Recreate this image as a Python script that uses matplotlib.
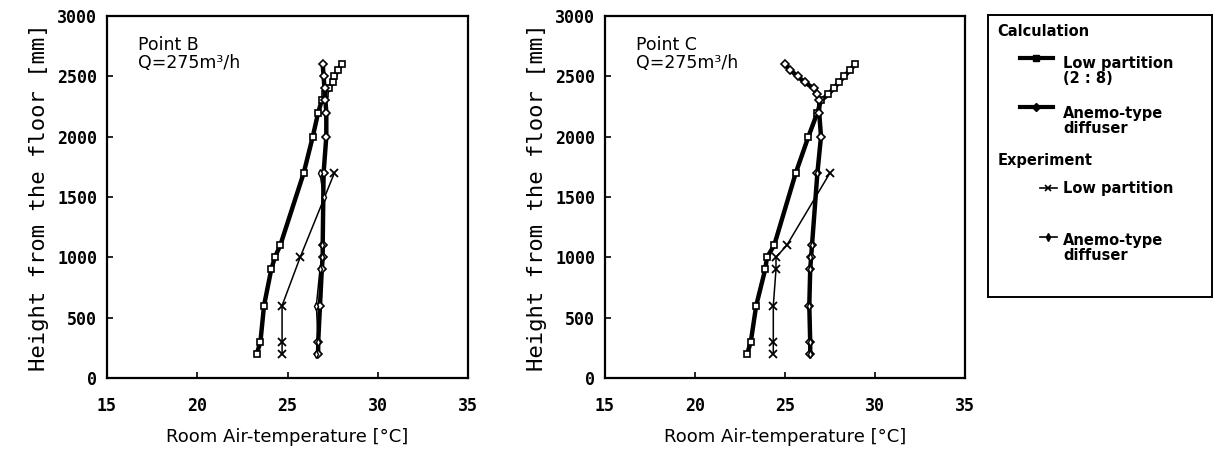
import matplotlib
matplotlib.use("Agg")
import matplotlib.pyplot as plt

# ---- data (temperature in C, height in mm) ----
# Point B
b_calc_low_h = [200, 300, 600, 900, 1000, 1100, 1700, 2000, 2200, 2300,
                2350, 2400, 2450, 2500, 2550, 2600]
b_calc_low_t = [23.3, 23.5, 23.7, 24.1, 24.3, 24.6, 25.9, 26.4, 26.7, 26.9,
                27.1, 27.3, 27.5, 27.6, 27.8, 28.0]
b_calc_ane_h = [200, 300, 600, 900, 1000, 1100, 1700, 2000, 2200, 2300,
                2400, 2500, 2600]
b_calc_ane_t = [26.7, 26.7, 26.8, 26.9, 26.95, 26.95, 27.0, 27.15, 27.15,
                27.1, 27.05, 27.0, 26.95]
b_exp_low_h = [200, 300, 600, 1000, 1700]
b_exp_low_t = [24.7, 24.7, 24.7, 25.7, 27.6]
b_exp_ane_h = [200, 300, 600, 900, 1000, 1100, 1500, 1700]
b_exp_ane_t = [26.6, 26.7, 26.6, 26.8, 26.9, 26.9, 27.0, 26.8]

# Point C
c_calc_low_h = [200, 300, 600, 900, 1000, 1100, 1700, 2000, 2200, 2300,
                2350, 2400, 2450, 2500, 2550, 2600]
c_calc_low_t = [22.9, 23.1, 23.4, 23.9, 24.0, 24.4, 25.6, 26.3, 26.8, 27.0,
                27.4, 27.7, 28.0, 28.3, 28.6, 28.9]
c_calc_ane_h = [200, 300, 600, 900, 1000, 1100, 1700, 2000, 2200, 2300,
                2350, 2400, 2450, 2500, 2550, 2600]
c_calc_ane_t = [26.4, 26.4, 26.35, 26.4, 26.45, 26.5, 26.8, 27.0, 26.9, 26.9,
                26.8, 26.6, 26.1, 25.7, 25.3, 25.0]
c_exp_low_h = [200, 300, 600, 900, 1000, 1100, 1700]
c_exp_low_t = [24.35, 24.35, 24.35, 24.5, 24.5, 25.1, 27.5]
c_exp_ane_h = [200, 300, 600, 900, 1000, 1100, 1700]
c_exp_ane_t = [26.4, 26.4, 26.35, 26.4, 26.4, 26.5, 26.8]

x_ticks = [15, 20, 25, 30, 35]
y_ticks = [0, 500, 1000, 1500, 2000, 2500, 3000]
y_tick_labels = ["0", "500", "1000", "1500", "2000", "2500", "3000"]
panel_titles = ["Point B\nQ=275m\u00b3/h", "Point C\nQ=275m\u00b3/h"]

W, H = 1214, 450
fig = plt.figure(figsize=(W / 100, H / 100), dpi=100)

mono = "DejaVu Sans Mono"


def draw_panel(rect, title, calc_low, calc_ane, exp_low, exp_ane):
    ax = fig.add_axes(rect)
    ax.plot(calc_low[1], calc_low[0], "-", color="k", lw=3.2,
            marker="s", ms=5, mfc="white", mec="k", mew=1.2)
    ax.plot(calc_ane[1], calc_ane[0], "-", color="k", lw=3.2,
            marker="D", ms=4.5, mfc="white", mec="k", mew=1.2)
    ax.plot(exp_low[1], exp_low[0], "-", color="k", lw=1.1,
            marker="x", ms=6, mew=1.3)
    ax.plot(exp_ane[1], exp_ane[0], "-", color="k", lw=1.1,
            marker="d", ms=4, mfc="white", mec="k", mew=1.0)
    ax.set_xlim(15, 35)
    ax.set_ylim(0, 3000)
    ax.set_xticks(x_ticks)
    ax.set_yticks(y_ticks)
    ax.set_yticklabels(y_tick_labels)
    ax.tick_params(direction="in", length=4, width=1.2)
    ax.tick_params(axis="x", pad=14, labelsize=12)
    ax.tick_params(axis="y", pad=7, labelsize=12)
    for lab in ax.get_xticklabels() + ax.get_yticklabels():
        lab.set_fontfamily(mono)
        lab.set_fontweight("bold")
    for sp in ax.spines.values():
        sp.set_linewidth(1.6)
    ax.set_xlabel("Room Air-temperature [\u00b0C]", fontsize=13, labelpad=9)
    ax.set_ylabel("Height from the floor [mm]", fontsize=16,
                  family=mono, labelpad=6)
    ax.text(0.085, 0.945, title, transform=ax.transAxes, fontsize=12.5,
            va="top", ha="left", linespacing=1.0)
    return ax


draw_panel([107 / W, 1 - 378 / H, 361 / W, 362 / H], panel_titles[0],
           (b_calc_low_h, b_calc_low_t), (b_calc_ane_h, b_calc_ane_t),
           (b_exp_low_h, b_exp_low_t), (b_exp_ane_h, b_exp_ane_t))
draw_panel([605 / W, 1 - 378 / H, 360 / W, 362 / H], panel_titles[1],
           (c_calc_low_h, c_calc_low_t), (c_calc_ane_h, c_calc_ane_t),
           (c_exp_low_h, c_exp_low_t), (c_exp_ane_h, c_exp_ane_t))

# ---- legend box drawn by hand (pixel coords, y from top) ----
lg = fig.add_axes([988 / W, 1 - 297 / H, 224 / W, 282 / H])
lg.set_xlim(988, 1212)
lg.set_ylim(297, 15)
lg.set_xticks([])
lg.set_yticks([])
for sp in lg.spines.values():
    sp.set_linewidth(1.4)

fs = 10.5
lg.text(997, 31, "Calculation", fontsize=fs, fontweight="bold", va="center")
lg.plot([1020, 1053], [58, 58], color="k", lw=3)
lg.plot([1036], [58], marker="s", ms=5, color="k")
lg.text(1063, 71, "Low partition\n(2 : 8)", fontsize=fs, fontweight="bold",
        va="center", linespacing=1.05)
lg.plot([1020, 1053], [107, 107], color="k", lw=3)
lg.plot([1036], [107], marker="D", ms=4, color="k")
lg.text(1063, 121, "Anemo-type\ndiffuser", fontsize=fs, fontweight="bold",
        va="center", linespacing=1.05)
lg.text(998, 160, "Experiment", fontsize=fs, fontweight="bold", va="center")
lg.plot([1040, 1057], [188, 188], color="k", lw=1.2)
lg.plot([1048], [188], marker="x", ms=4, color="k", mew=1.2)
lg.text(1063, 189, "Low partition", fontsize=fs, fontweight="bold",
        va="center")
lg.plot([1040, 1057], [237, 237], color="k", lw=1.2)
lg.plot([1048], [237], marker="d", ms=4, color="k")
lg.text(1063, 248, "Anemo-type\ndiffuser", fontsize=fs, fontweight="bold",
        va="center", linespacing=1.05)

fig.savefig("out.png", dpi=100)
